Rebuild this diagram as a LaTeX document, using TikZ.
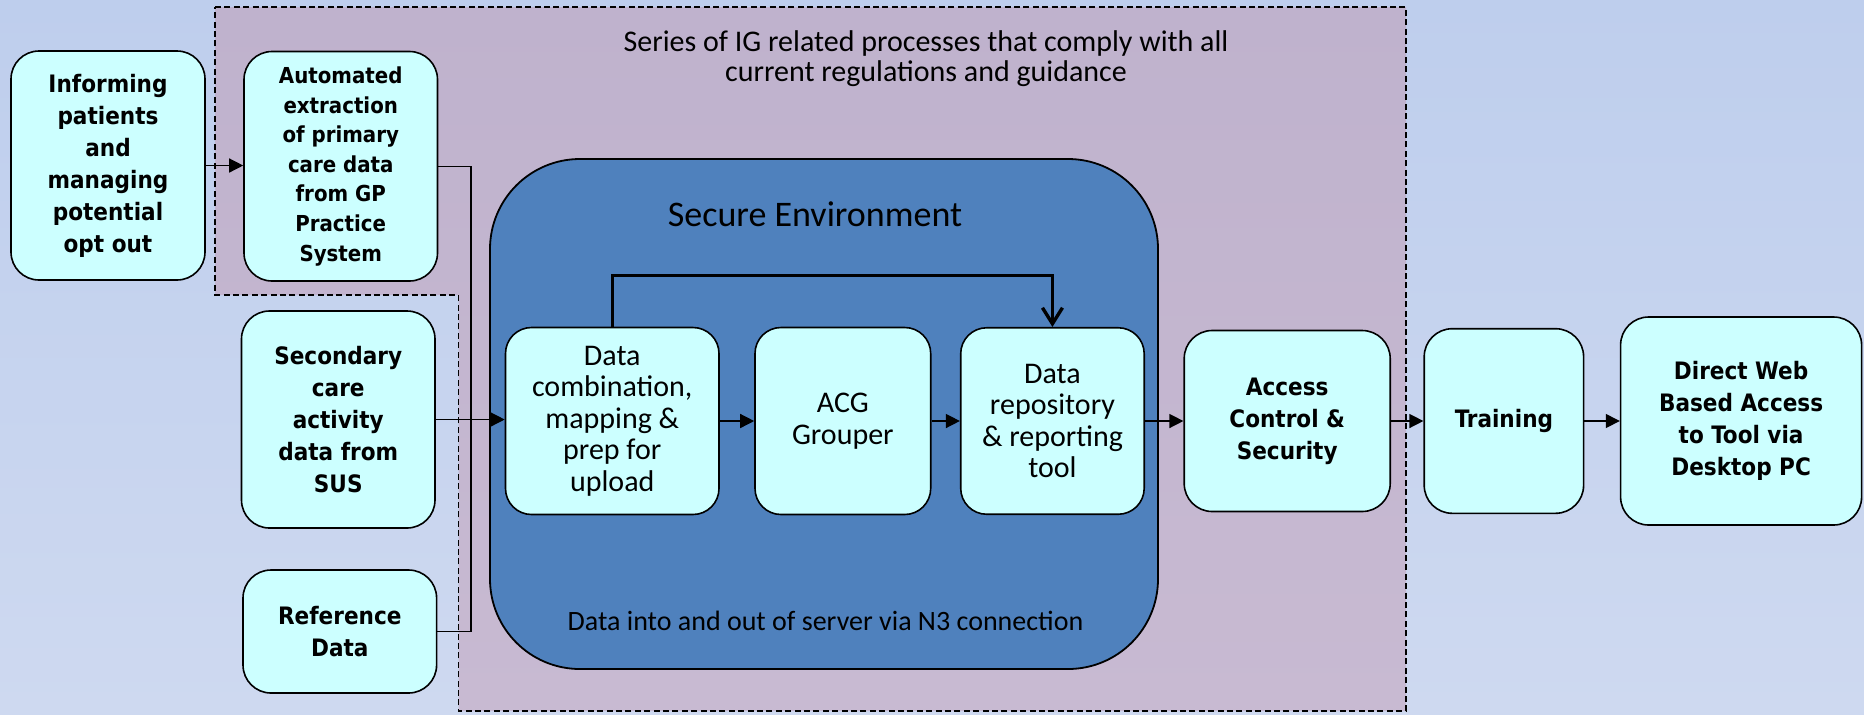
\documentclass[tikz,border=0pt]{standalone}
\usepackage{fontspec}
\usetikzlibrary{arrows.meta,positioning}
\definecolor{bgTop}{RGB}{190,206,237}
\definecolor{bgBottom}{RGB}{206,217,240}
\definecolor{igTop}{RGB}{191,178,205}
\definecolor{igBottom}{RGB}{200,186,210}
\definecolor{secureColor}{RGB}{79,129,189}
\definecolor{boxColor}{RGB}{204,255,255}
\newfontfamily\outerfamily{DejaVu Sans Condensed}
\newfontfamily\innerfamily{Carlito}
\newcommand{\outerfont}{\outerfamily\bfseries\fontsize{12}{16}\selectfont}
\newcommand{\outersmallfont}{\outerfamily\bfseries\fontsize{11}{14.8}\selectfont}
\newcommand{\innerfont}{\innerfamily\fontsize{15}{15.8}\selectfont}
\newcommand{\titlefont}{\innerfamily\fontsize{15}{15}\selectfont}
\newcommand{\notefont}{\innerfamily\fontsize{14}{15}\selectfont}
\newcommand{\securefont}{\innerfamily\fontsize{18}{20}\selectfont}

\begin{document}
\begin{tikzpicture}[
    x=0.5pt, y=-0.5pt,
    srcbox/.style={draw, rounded corners=14pt, fill=boxColor, line width=0.8pt, align=center, inner sep=0pt, font=\outerfont},
    stagebox/.style={srcbox, rounded corners=13pt, font=\innerfont},
    igzone/.style={draw, dash pattern=on 3pt off 1.7pt, line width=0.6pt, top color=igTop, bottom color=igBottom},
    arr/.style={-{Triangle[length=7pt,width=7pt]}, line width=0.7pt},
    link/.style={line width=0.7pt},
    looparr/.style={-{Straight Barb[length=8pt,width=10pt]}, line width=1.7pt}
  ]
  \useasboundingbox (0,0) rectangle (1864,714);
  \shade[top color=bgTop, bottom color=bgBottom] (0,0) rectangle (1864,714);

  % IG governed area
  \path[igzone] (215,7) -- (1406,7) -- (1406,711) -- (458.5,711) -- (458.5,295) -- (215,295) -- cycle;
  \node[font=\titlefont, align=center] (igtitle) at (926,59) {Series of IG related processes that comply with all\\ current regulations and guidance};

  % secure environment
  \node[draw, line width=0.9pt, fill=secureColor, rounded corners=45pt, minimum width=334pt, minimum height=255pt] (secure) at (824,414) {};
  \node[font=\securefont] (securetitle) at (815,214) {Secure Environment};
  \node[font=\notefont] (n3note) at (825.5,620.5) {Data into and out of server via N3 connection};

  % sources
  \node[srcbox, minimum width=97pt, minimum height=114.5pt] (inform) at (108,165.5) {Informing\\ patients\\ and\\ managing\\ potential\\ opt out};
  \node[srcbox, font=\outersmallfont, minimum width=96.75pt, minimum height=114.75pt] (extract) at (340.75,166.25) {Automated\\ extraction\\ of primary\\ care data\\ from GP\\ Practice\\ System};
  \node[srcbox, minimum width=96.75pt, minimum height=108.5pt] (sus) at (338.25,419.5) {Secondary\\ care\\ activity\\ data from\\ SUS};
  \node[srcbox, minimum width=96.8pt, minimum height=61.5pt] (refdata) at (339.8,631.5) {Reference\\ Data};

  % main chain
  \node[stagebox, minimum width=106.75pt, minimum height=93.5pt] (combine) at (612.25,421) {Data\\ combination,\\ mapping \&\\ prep for\\ upload};
  \node[stagebox, minimum width=87.85pt, minimum height=93.5pt, right=17.2pt of combine] (acg) {ACG\\ Grouper};
  \node[stagebox, minimum width=91.75pt, minimum height=93.25pt, right=14.2pt of acg] (repo) {Data\\ repository\\ \& reporting\\ tool};
  \node[srcbox, minimum width=103pt, minimum height=90.5pt, right=19.2pt of repo] (access) {Access\\ Control \&\\ Security};
  \node[srcbox, minimum width=79.7pt, minimum height=92.3pt, right=16.2pt of access] (training) {Training};
  \node[srcbox, minimum width=120.5pt, minimum height=104pt, right=17.7pt of training] (webaccess) {Direct Web\\ Based Access\\ to Tool via\\ Desktop PC};

  \coordinate (bus) at (471,0);
  \draw[arr] (inform.east) -- (inform.east -| extract.west);
  \draw[link] (extract.east) -- (extract.east -| bus) |- (refdata.east);
  \draw[arr] (sus.east) -- (sus.east -| combine.west);
  \draw[arr] (combine) -- (acg);
  \draw[arr] (acg) -- (repo);
  \draw[arr] (repo) -- (access);
  \draw[arr] (access) -- (training);
  \draw[arr] (training) -- (webaccess);
  \draw[looparr] (combine.north) -- ++(0,-51) -| (repo.north);
\end{tikzpicture}
\end{document}
